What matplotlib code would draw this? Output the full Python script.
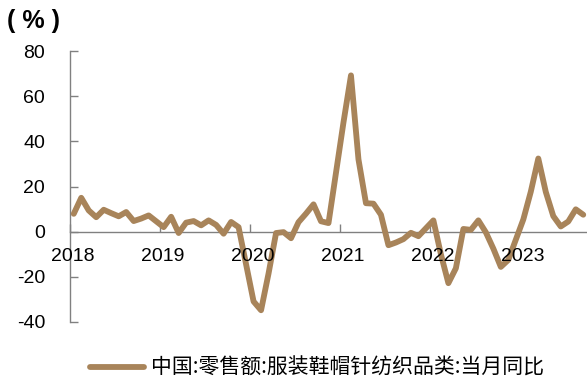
import matplotlib
matplotlib.use("Agg")
import matplotlib.pyplot as plt
from matplotlib.lines import Line2D

plt.rcParams['font.family'] = ['Liberation Sans', 'DejaVu Sans']

# Monthly series; Jan and Feb are reported together (stored under month 2)
years = [2018] * 11 + [2019] * 11 + [2020] * 11 + [2021] * 11 + [2022] * 11 + [2023] * 9
months = list(range(2, 13)) * 5 + list(range(2, 11))
values = [
    # 2018
    7.9, 15.0, 9.4, 6.4, 9.7, 8.2, 6.8, 8.7, 4.7, 5.8, 7.2,
    # 2019
    2.0, 6.6, -0.6, 4.0, 4.7, 2.8, 5.0, 3.0, -0.9, 4.3, 2.0,
    # 2020
    -30.9, -34.8, -18.5, -0.6, -0.2, -2.9, 4.2, 8.0, 12.1, 4.6, 3.8,
    # 2021
    48.4, 69.2, 32.0, 12.6, 12.4, 7.5, -6.0, -4.8, -3.3, -0.5, -2.0,
    # 2022
    5.0, -10.0, -22.8, -16.2, 1.2, 0.8, 5.0, -0.3, -7.5, -15.6, -12.5,
    # 2023
    5.4, 17.7, 32.4, 17.6, 6.9, 2.3, 4.5, 9.9, 7.5,
]
year_labels = ['2018', '2019', '2020', '2021', '2022', '2023']
y_ticks = [-40, -20, 0, 20, 40, 60, 80]
series_name = '中国:零售额:服装鞋帽针纺织品类:当月同比'

line_color = '#A8845A'
axis_color = '#808080'

# month slots counted from Feb 2018, points centred in their slot
x = [(y - 2018) * 12 + (m - 2) + 0.5 for y, m in zip(years, months)]

fig = plt.figure(figsize=(5.87, 3.80), dpi=100)
ax = fig.add_axes([70 / 587, (380 - 322) / 380, 1 - 70 / 587, (322 - 51) / 380])

ax.plot(x, values, color=line_color, lw=4.2, solid_capstyle='round',
        solid_joinstyle='round', clip_on=False, zorder=3)

ax.set_xlim(0, 69)
ax.set_ylim(-40, 80)

for side in ('top', 'right'):
    ax.spines[side].set_visible(False)
ax.spines['left'].set_color(axis_color)
ax.spines['left'].set_linewidth(1.0)
ax.spines['bottom'].set_position(('data', 0))
ax.spines['bottom'].set_color(axis_color)
ax.spines['bottom'].set_linewidth(1.0)
ax.spines['bottom'].set_zorder(2)

ax.set_yticks(y_ticks)
ax.set_yticklabels([str(v) for v in y_ticks])
ax.tick_params(axis='y', direction='in', length=6, width=1, color=axis_color,
               labelsize=14, pad=18, labelcolor='black')

tick_pos = [12 * i for i in range(len(year_labels))]
ax.set_xticks(tick_pos)
ax.set_xticklabels([])
ax.tick_params(axis='x', direction='in', length=6, width=1, color=axis_color)
for i, lab in enumerate(year_labels):
    ax.text(tick_pos[i] + 0.4, -7.2, lab, ha='center', va='top', fontsize=14,
            color='black')

fig.text(7 / 587, 1 - 21 / 380, '( % )', ha='left', va='center',
         fontsize=18, fontweight='bold')

handle = Line2D([], [], color=line_color, lw=4.2, solid_capstyle='round')
leg = fig.legend([handle], [series_name], loc='center',
                 bbox_to_anchor=(317 / 587, 1 - 368 / 380), frameon=False,
                 borderaxespad=0.0, borderpad=0.2,
                 handlelength=2.6, handletextpad=0.35,
                 prop={'family': ['Noto Sans CJK SC', 'DejaVu Sans'], 'size': 15})

fig.savefig('out.png', dpi=100)
